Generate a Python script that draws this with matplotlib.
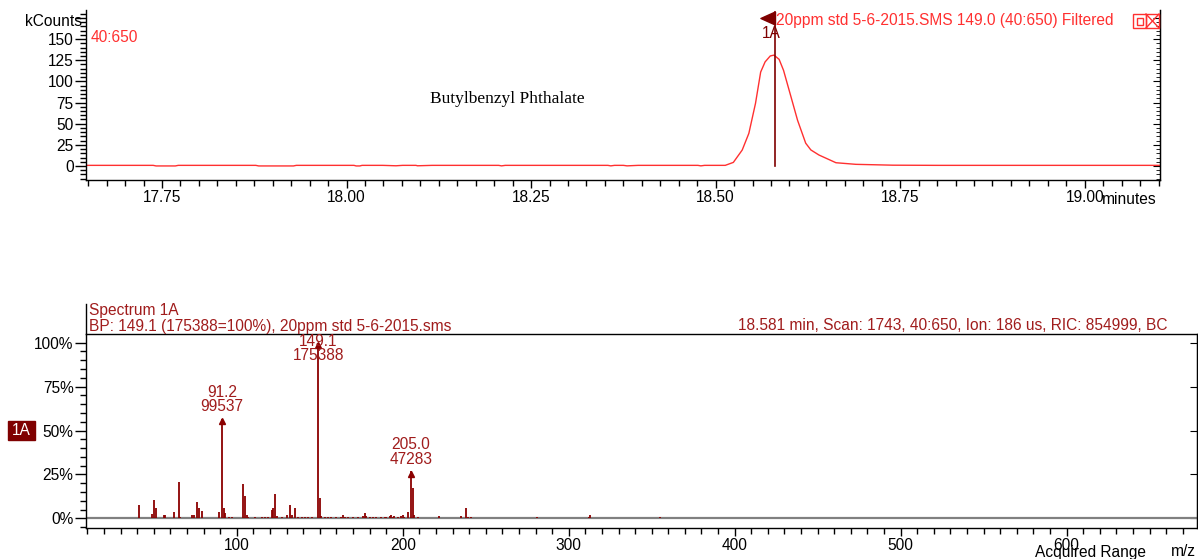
import matplotlib.pyplot as plt
from matplotlib.ticker import MultipleLocator, FormatStrFormatter, NullFormatter, FuncFormatter
from matplotlib.patches import Rectangle
from matplotlib.lines import Line2D

plt.rcParams['font.family'] = ['Liberation Sans', 'DejaVu Sans']

W, H = 1198, 559

# chromatogram, m/z 149.0 filtered (minutes, kCounts)
rt_min = [17.647, 17.738, 17.742, 17.768, 17.772, 17.877, 17.881, 17.928, 17.932, 18.010,
          18.013, 18.018, 18.021, 18.049, 18.067, 18.076, 18.094, 18.096, 18.116, 18.206,
          18.210, 18.215, 18.354, 18.358, 18.363, 18.375, 18.380, 18.395, 18.476, 18.480,
          18.485, 18.513, 18.524, 18.536, 18.545, 18.554, 18.561, 18.567, 18.574, 18.579,
          18.586, 18.592, 18.602, 18.611, 18.622, 18.629, 18.640, 18.663, 18.690, 18.740,
          18.800, 18.900, 19.000, 19.102]
kcounts = [0.8, 0.8, 0.1, 0.1, 0.8, 0.8, 0.1, 0.1, 0.8, 0.8,
           0.1, 0.1, 0.8, 0.8, 0.3, 0.8, 0.8, 0.3, 0.8, 0.8,
           0.2, 0.8, 0.8, 0.2, 0.8, 0.8, 0.2, 0.8, 0.8, 0.2,
           0.8, 0.8, 4.3, 18.9, 38.6, 74.0, 111.0, 123.0, 130.0, 131.0,
           126.0, 113.0, 82.0, 54.0, 27.0, 19.0, 13.0, 3.9, 2.0, 1.0,
           0.8, 0.8, 0.8, 0.8]
cursor_rt = 18.581

# mass spectrum at 18.581 min (m/z, % of base peak)
mz = [41, 49, 50, 51, 56, 57, 62, 65, 66, 73, 74, 76, 77, 79, 89, 91.2, 92, 93, 95, 97,
      104, 105, 106, 107, 111, 115, 117, 119, 121, 122, 123, 124, 127, 130, 132, 133, 135,
      137, 139, 141, 143, 145, 149.1, 150, 151, 153, 155, 157, 160, 163, 164, 165, 167, 170,
      173, 176, 177, 178, 180, 182, 184, 187, 189, 190, 192, 193, 194, 195, 197, 199, 200,
      201, 203, 205.0, 206, 207, 209, 212, 215, 218, 222, 225, 228, 232, 235, 238, 239, 241,
      246, 252, 258, 265, 272, 281, 290, 297, 304, 312, 313, 325, 338, 355, 372, 410, 455,
      530, 555]
rel_pct = [7.8, 2.5, 10.2, 5.9, 1.8, 2.0, 3.4, 20.5, 1.0, 1.7, 1.7, 9.3, 6.0, 4.4, 3.8, 56.75,
           6.0, 3.0, 1.0, 0.8, 19.5, 12.9, 2.0, 1.0, 0.6, 0.7, 0.8, 1.0, 4.9, 5.9, 14.0, 1.2,
           0.8, 2.0, 7.6, 2.0, 6.0, 0.8, 0.8, 0.6, 0.6, 0.6, 100.0, 11.8, 1.2, 0.6, 0.6, 0.5,
           0.6, 0.8, 2.0, 0.9, 0.6, 0.6, 0.5, 1.5, 3.2, 1.2, 0.8, 0.6, 0.5, 0.6, 0.6, 0.8, 1.2,
           2.0, 1.0, 1.5, 0.8, 1.2, 1.8, 1.0, 3.4, 26.96, 17.3, 2.0, 0.6, 0.4, 0.4, 0.4, 1.1,
           0.4, 0.4, 0.4, 1.5, 5.9, 1.0, 0.5, 0.4, 0.4, 0.4, 0.4, 0.4, 0.6, 0.4, 0.4, 0.4, 1.0,
           1.9, 0.4, 0.3, 1.0, 0.3, 0.3, 0.3, 0.3, 0.3]
label_mz = [91.2, 149.1, 205.0]
label_counts = [99537, 175388, 47283]
base_counts = 175388

RED = '#ff3030'
DARK = '#7f0000'
SPEC = '#8b0000'
SPEC_TXT = '#a01c1c'
FS = 11.2


def fx(px):
    return px / W


def fy(py):
    return 1 - py / H


fig = plt.figure(figsize=(W / 100, H / 100), dpi=100)

# ---------- chromatogram ----------
ax1 = fig.add_axes([fx(86), fy(180), fx(1160 - 86), (180 - 10) / H])
ax1.plot(rt_min, kcounts, color=RED, lw=1.0)
ax1.set_xlim(17.647, 19.102)
ax1.set_ylim(-16.5, 184.3)
ax1.spines['top'].set_visible(False)
for s in ['left', 'right', 'bottom']:
    ax1.spines[s].set_linewidth(1.0)
ax1.yaxis.set_major_locator(MultipleLocator(25))
ax1.yaxis.set_minor_locator(MultipleLocator(5))
ax1.yaxis.set_major_formatter(FuncFormatter(lambda v, p: '%d' % v if 0 <= v <= 150 else ''))
ax1.xaxis.set_major_locator(MultipleLocator(0.25))
ax1.xaxis.set_minor_locator(MultipleLocator(0.025))
ax1.xaxis.set_major_formatter(FormatStrFormatter('%.2f'))
ax1.tick_params(axis='y', which='major', length=8, width=1, pad=1, labelsize=FS)
ax1.tick_params(axis='y', which='minor', length=4, width=1)
ax1.tick_params(axis='x', which='major', length=6, width=1, pad=1, labelsize=FS)
ax1.tick_params(axis='x', which='minor', length=4, width=1)
sec1 = ax1.secondary_yaxis('right')
sec1.yaxis.set_major_locator(MultipleLocator(25))
sec1.yaxis.set_minor_locator(MultipleLocator(5))
sec1.yaxis.set_major_formatter(NullFormatter())
sec1.tick_params(which='major', direction='in', length=5)
sec1.tick_params(which='minor', direction='in', length=3)

# cursor with flag
ax1.plot([cursor_rt, cursor_rt], [0, 182], color=DARK, lw=1.2)
ax1.plot([cursor_rt], [174.5], marker=[(0, 0.45), (0, -0.45), (-1, 0), (0, 0.45)],
         markersize=21, color=DARK, mec=DARK)
ax1.text(cursor_rt - 0.006, 157, '1A', color=DARK, fontsize=FS, ha='center', va='center')

fig.text(fx(82), fy(21), 'kCounts', fontsize=FS, ha='right', va='center')
fig.text(fx(91), fy(37), '40:650', fontsize=FS, color=RED, ha='left', va='center')
fig.text(fx(430), fy(99), 'Butylbenzyl Phthalate', fontsize=12.5,
         family=['Liberation Serif', 'DejaVu Serif'], ha='left', va='center')
fig.text(fx(776), fy(21), '20ppm std 5-6-2015.SMS 149.0 (40:650) Filtered',
         fontsize=FS, color=RED, ha='left', va='center')
fig.text(fx(1102), fy(200), 'minutes', fontsize=FS, ha='left', va='center')

# small window icons
for x0 in [1133, 1146]:
    fig.add_artist(Rectangle((fx(x0), fy(28)), 13 / W, 14 / H, fill=False,
                             ec=RED, lw=1.0, transform=fig.transFigure))
fig.add_artist(Rectangle((fx(1136.5), fy(24.5)), 6 / W, 7 / H, fill=False,
                         ec=RED, lw=1.0, transform=fig.transFigure))
fig.add_artist(Line2D([fx(1146), fx(1159)], [fy(14), fy(28)], color=RED, lw=1.0))
fig.add_artist(Line2D([fx(1146), fx(1159)], [fy(28), fy(14)], color=RED, lw=1.0))

# ---------- spectrum ----------
ax2 = fig.add_axes([fx(86), fy(528), fx(1197 - 86), (528 - 334) / H])
ax2.axhline(0, color='#808080', lw=1.6, zorder=1)
ax2.vlines(mz, 0, rel_pct, color=SPEC, lw=1.3, zorder=2)
ax2.set_xlim(9.1, 678.6)
ax2.set_ylim(-5.5, 104.95)
for s in ax2.spines.values():
    s.set_linewidth(1.0)
ax2.yaxis.set_major_locator(MultipleLocator(25))
ax2.yaxis.set_minor_locator(MultipleLocator(5))
ax2.yaxis.set_major_formatter(FuncFormatter(lambda v, p: '%d%%' % v if 0 <= v <= 100 else ''))
ax2.xaxis.set_major_locator(MultipleLocator(100))
ax2.xaxis.set_minor_locator(MultipleLocator(10))
ax2.xaxis.set_major_formatter(FuncFormatter(lambda v, p: '%d' % v if v > 0 else ''))
ax2.tick_params(axis='y', which='major', length=8, width=1, pad=1, labelsize=FS)
ax2.tick_params(axis='y', which='minor', length=4, width=1)
ax2.tick_params(axis='x', which='major', length=6, width=1, pad=1, labelsize=FS)
ax2.tick_params(axis='x', which='minor', length=4, width=1)
sec2 = ax2.secondary_yaxis('right')
sec2.yaxis.set_major_locator(MultipleLocator(25))
sec2.yaxis.set_minor_locator(MultipleLocator(1000))
sec2.yaxis.set_major_formatter(NullFormatter())
sec2.tick_params(which='major', direction='in', length=5)

for m, c in zip(label_mz, label_counts):
    pct = c / base_counts * 100
    ax2.plot([m], [pct - 1.5], marker='^', markersize=4, color=SPEC)
    ax2.annotate('%.1f\n%d' % (m, c), xy=(m, min(pct, 86)), xytext=(0, 3),
                 textcoords='offset points', ha='center', va='bottom',
                 fontsize=FS, color=SPEC_TXT, linespacing=0.95)

fig.add_artist(Line2D([fx(86), fx(86)], [fy(304), fy(334)], color='black', lw=1.0))
fig.text(fx(89), fy(311), 'Spectrum 1A', fontsize=FS, color=SPEC_TXT, ha='left', va='center')
fig.text(fx(89), fy(326), 'BP: 149.1 (175388=100%), 20ppm std 5-6-2015.sms',
         fontsize=FS, color=SPEC_TXT, ha='left', va='center')
fig.text(fx(1167), fy(326), '18.581 min, Scan: 1743, 40:650, Ion: 186 us, RIC: 854999, BC',
         fontsize=FS, color=SPEC_TXT, ha='right', va='center')

fig.add_artist(Rectangle((fx(8), fy(440)), 27 / W, 19 / H, color=DARK,
                         transform=fig.transFigure))
fig.text(fx(21.5), fy(430.5), '1A', fontsize=FS, color='white', ha='center', va='center')
fig.text(fx(1035), fy(552), 'Acquired Range', fontsize=FS, ha='left', va='center')
fig.text(fx(1171), fy(552), 'm/z', fontsize=FS, ha='left', va='center')

fig.savefig('out.png', dpi=100)
